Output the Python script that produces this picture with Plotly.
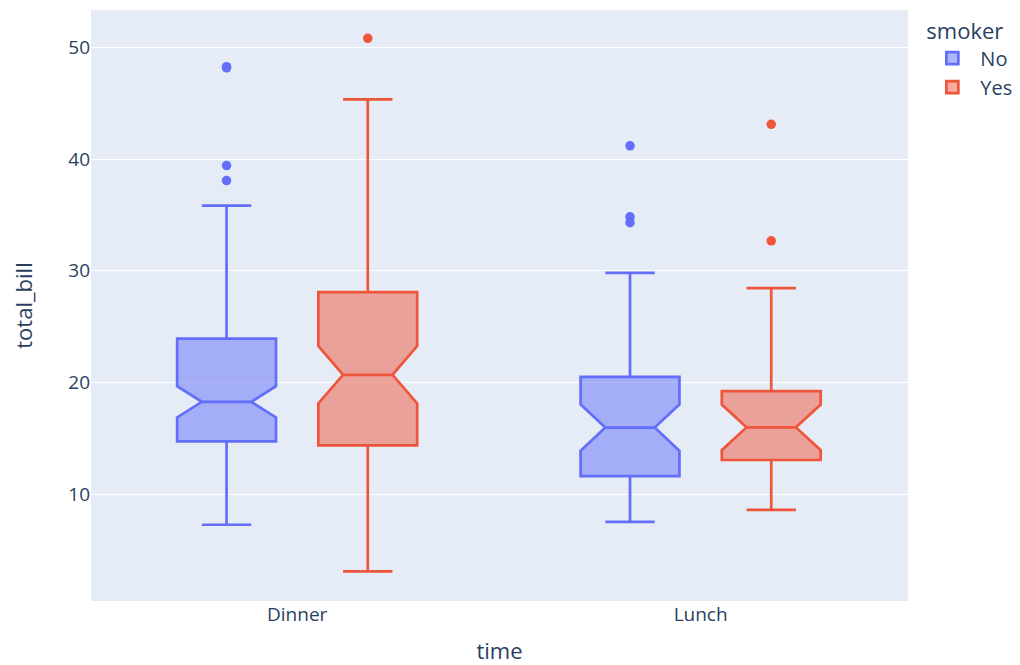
import plotly.graph_objects as go

times = ["Dinner", "Lunch"]
smokers = ["No", "Yes"]
colors = {"No": "#636efa", "Yes": "#EF553B"}

# precomputed box statistics (Dinner, Lunch)
q1 = {"No": [14.72, 11.60], "Yes": [14.36, 13.05]}
median = {"No": [18.26, 15.95], "Yes": [20.68, 15.97]}
q3 = {"No": [23.92, 20.50], "Yes": [28.08, 19.22]}
lowerfence = {"No": [7.25, 7.51], "Yes": [3.07, 8.58]}
upperfence = {"No": [35.83, 29.80], "Yes": [45.35, 28.44]}
notchspan = {"No": [1.40, 2.08], "Yes": [2.57, 2.04]}

# outliers
out_time = {"No": ["Dinner", "Dinner", "Dinner", "Dinner", "Lunch", "Lunch", "Lunch"],
            "Yes": ["Dinner", "Lunch", "Lunch"]}
out_bill = {"No": [48.27, 48.17, 39.42, 38.07, 41.19, 34.83, 34.30],
            "Yes": [50.81, 43.11, 32.68]}

fig = go.Figure()
for s in smokers:
    fig.add_trace(go.Box(
        name=s, x=times, q1=q1[s], median=median[s], q3=q3[s],
        lowerfence=lowerfence[s], upperfence=upperfence[s],
        notchspan=notchspan[s], notched=True,
        marker_color=colors[s], line=dict(color=colors[s], width=2.7),
        offsetgroup=s, alignmentgroup="a", legendgroup=s,
        boxpoints=False,
    ))
for s in smokers:
    fig.add_trace(go.Scatter(
        x=out_time[s], y=out_bill[s], mode="markers",
        marker=dict(color=colors[s], size=9.5),
        offsetgroup=s, alignmentgroup="a", legendgroup=s,
        showlegend=False,
    ))

fig.update_layout(
    template="plotly",
    width=1012, height=657,
    boxmode="group", scattermode="group", scattergap=0.3,
    font=dict(size=19),
    margin=dict(l=83, r=112, t=2, b=64),
    legend=dict(title=dict(text="smoker", font=dict(size=22)), font=dict(size=20),
                itemwidth=46, tracegroupgap=0),
    xaxis=dict(title=dict(text="time", font=dict(size=22), standoff=22),
               categoryorder="array", categoryarray=times, range=[-0.511, 1.514]),
    yaxis=dict(title=dict(text="total_bill", font=dict(size=22), standoff=39),
               range=[0.42, 53.35]),
)

fig.write_html("out.html")
